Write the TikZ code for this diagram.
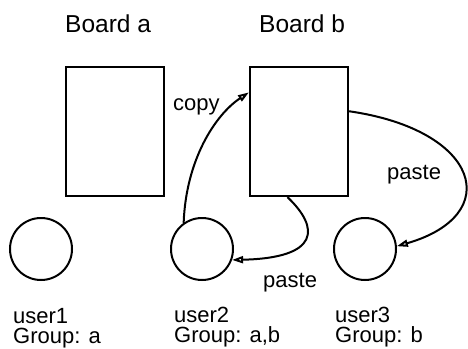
\documentclass[tikz,border=0pt]{standalone}
\usepackage{fontspec}
\setmainfont{Liberation Sans}
\usetikzlibrary{arrows.meta}
\newcommand{\boardfont}{\fontsize{24.5}{25}\selectfont}
\newcommand{\userfont}{\fontsize{22}{20}\selectfont}

\begin{document}
\begin{tikzpicture}[x=1pt, y=-1pt,
    board/.style={draw=black, line width=2.2pt, minimum width=98pt, minimum height=129pt, inner sep=0pt},
    user/.style={draw=black, line width=2pt, circle, minimum size=62pt, inner sep=0pt},
    lbl/.style={anchor=base west, inner sep=0pt, font=\userfont},
    link/.style={draw=black, line width=2pt, -{Triangle[open, length=11pt, width=7pt]}}]

    \useasboundingbox (0, 0) rectangle (468, 348);

    \node[lbl, font=\boardfont] (ta) at (65, 32) {Board a};
    \node[lbl, font=\boardfont] (tb) at (259, 32) {Board b};

    \node[board] (boarda) at (115, 131.5) {};
    \node[board] (boardb) at (299, 131.5) {};

    \node[user] (user1) at (41, 249) {};
    \node[user] (user2) at (202, 249) {};
    \node[user] (user3) at (365, 249) {};

    % base of a two-line node is the last line
    \node[lbl, align=left] (l1) at (13, 343) {user1\\Group: a};
    \node[lbl, align=left] (l2) at (174, 342) {user2\\Group: a,b};
    \node[lbl, align=left] (l3) at (335, 342) {user3\\Group: b};

    \node[lbl] (copy) at (173, 110) {copy};
    \node[lbl] (paste1) at (263, 287) {paste};
    \node[lbl] (paste2) at (387, 179) {paste};

    % copy and the two pastes
    \draw[link] (user2.125) .. controls (186, 160) and (215, 115) .. (boardb.142);
    \draw[link] (boardb.260) .. controls (320, 228) and (320, 258) .. (user2.-20);
    \draw[link] (boardb.22) .. controls (480, 130) and (505, 215) .. (user3.5);

\end{tikzpicture}
\end{document}
